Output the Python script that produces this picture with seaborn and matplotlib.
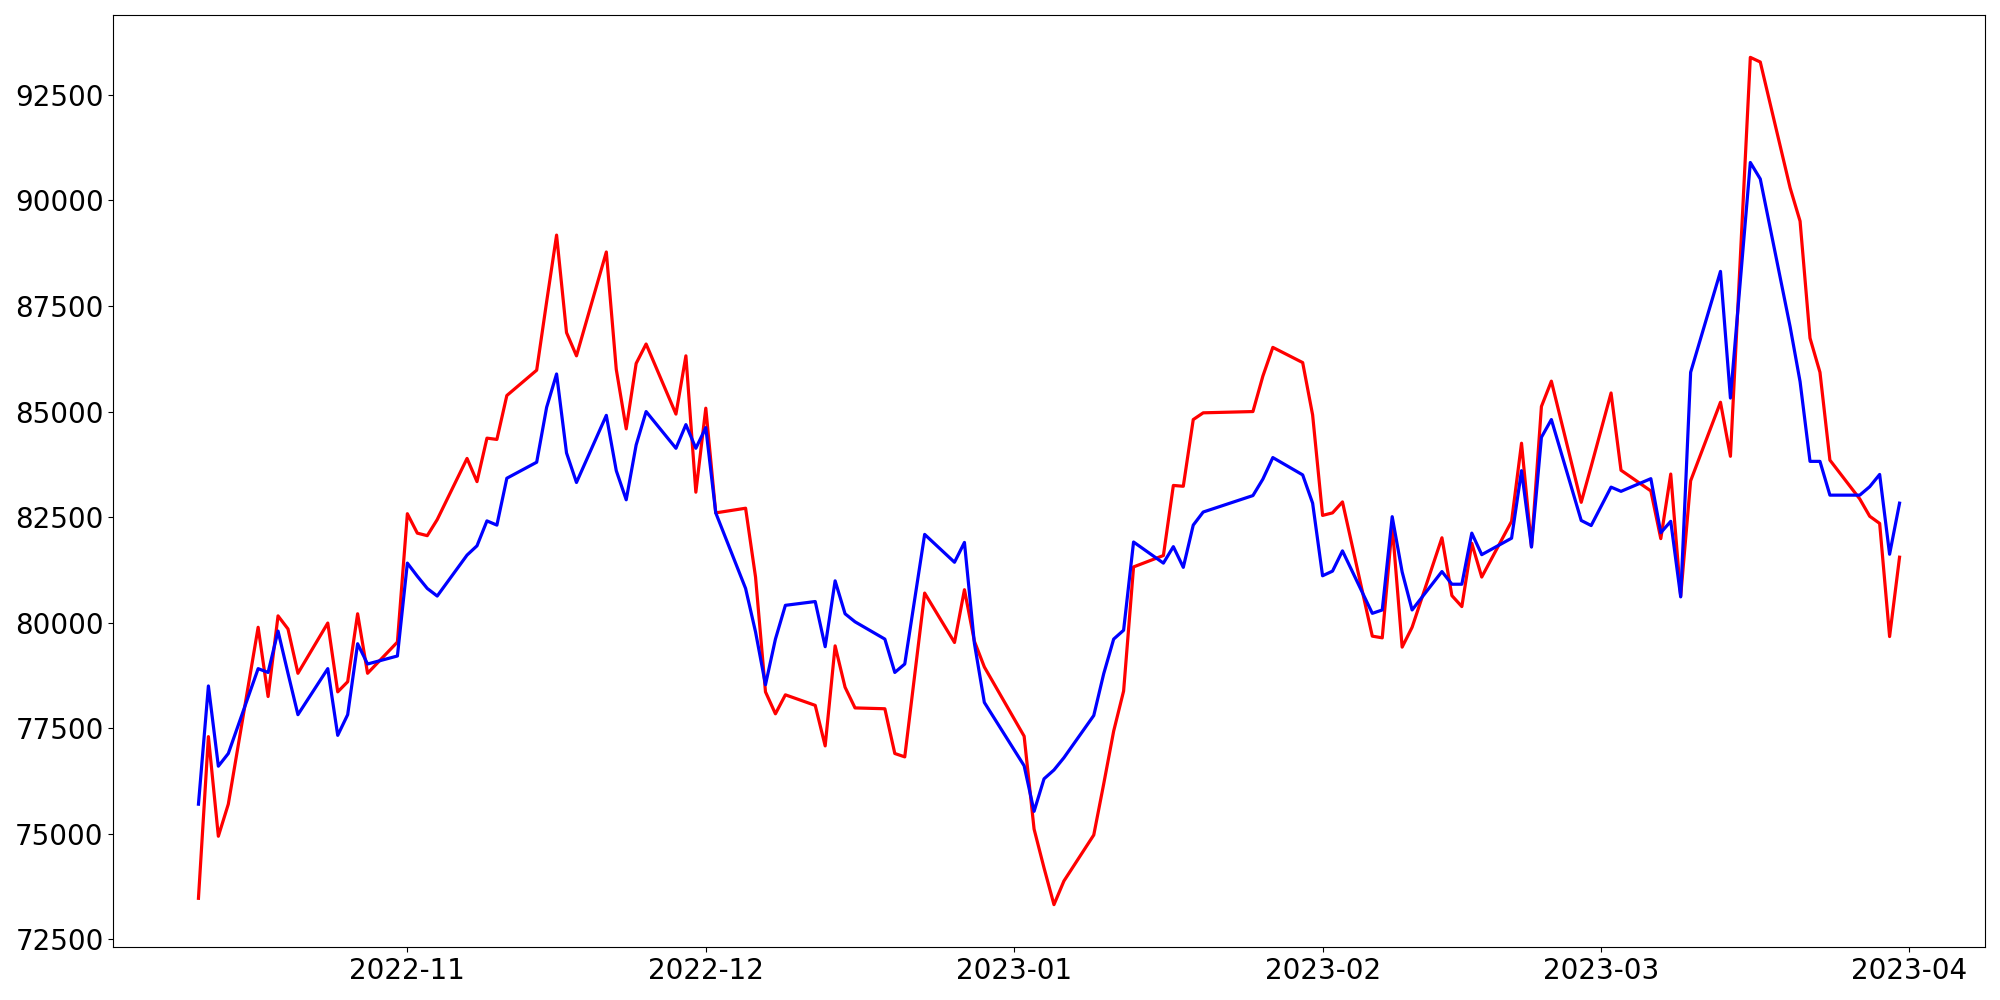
import matplotlib
matplotlib.use("Agg")
import matplotlib.pyplot as plt
import seaborn as sns
import pandas as pd

dates = [
    "2022-10-11", "2022-10-12", "2022-10-13", "2022-10-14", "2022-10-17", "2022-10-18", "2022-10-19",
    "2022-10-20", "2022-10-21", "2022-10-24", "2022-10-25", "2022-10-26", "2022-10-27", "2022-10-28",
    "2022-10-31",
    "2022-11-01", "2022-11-02", "2022-11-03", "2022-11-04", "2022-11-07", "2022-11-08", "2022-11-09",
    "2022-11-10", "2022-11-11", "2022-11-14", "2022-11-15", "2022-11-16", "2022-11-17", "2022-11-18",
    "2022-11-21", "2022-11-22", "2022-11-23", "2022-11-24", "2022-11-25", "2022-11-28", "2022-11-29",
    "2022-11-30",
    "2022-12-01", "2022-12-02", "2022-12-05", "2022-12-06", "2022-12-07", "2022-12-08", "2022-12-09",
    "2022-12-12", "2022-12-13", "2022-12-14", "2022-12-15", "2022-12-16", "2022-12-19", "2022-12-20",
    "2022-12-21", "2022-12-23", "2022-12-26", "2022-12-27", "2022-12-28", "2022-12-29",
    "2023-01-02", "2023-01-03", "2023-01-04", "2023-01-05", "2023-01-06", "2023-01-09", "2023-01-10",
    "2023-01-11", "2023-01-12", "2023-01-13", "2023-01-16", "2023-01-17", "2023-01-18", "2023-01-19",
    "2023-01-20", "2023-01-25", "2023-01-26", "2023-01-27", "2023-01-30", "2023-01-31",
    "2023-02-01", "2023-02-02", "2023-02-03", "2023-02-06", "2023-02-07", "2023-02-08", "2023-02-09",
    "2023-02-10", "2023-02-13", "2023-02-14", "2023-02-15", "2023-02-16", "2023-02-17", "2023-02-20",
    "2023-02-21", "2023-02-22", "2023-02-23", "2023-02-24", "2023-02-27", "2023-02-28",
    "2023-03-02", "2023-03-03", "2023-03-06", "2023-03-07", "2023-03-08", "2023-03-09", "2023-03-10",
    "2023-03-13", "2023-03-14", "2023-03-16", "2023-03-17", "2023-03-20", "2023-03-21", "2023-03-22",
    "2023-03-23", "2023-03-24", "2023-03-27", "2023-03-28", "2023-03-29", "2023-03-30", "2023-03-31",
]

red_values = [
    73470, 77300, 74940, 75700, 79890, 78250, 80160, 79850, 78800, 79990, 78360, 78600, 80210, 78800,
    79540,
    82580, 82120, 82060, 82440, 83890, 83340, 84370, 84340, 85380, 85980, 87600, 89180, 86870, 86320,
    88780, 86000, 84590, 86140, 86600, 84940, 86320, 83090,
    85080, 82600, 82710, 81080, 78360, 77840, 78290, 78040, 77080, 79450, 78470, 77980, 77960, 76900,
    76820, 80700, 79530, 80780, 79560, 78950,
    77310, 75110, 74190, 73320, 73880, 74970, 76180, 77430, 78380, 81320, 81590, 83250, 83230, 84810,
    84970, 85000, 85840, 86520, 86160, 84920,
    82540, 82600, 82860, 79680, 79640, 82300, 79420, 79890, 82010, 80640, 80380, 81880, 81080, 82400,
    84250, 81800, 85120, 85720, 82850, 83700,
    85440, 83610, 83120, 81990, 83520, 80630, 83360, 85220, 83940, 93390, 93280, 90300, 89510, 86740,
    85930, 83850, 82930, 82520, 82350, 79670, 81550,
]

blue_values = [
    75700, 78500, 76600, 76900, 78910, 78820, 79800, 78800, 77820, 78910, 77330, 77820, 79500, 79020,
    79210,
    81410, 81100, 80810, 80630, 81600, 81820, 82410, 82310, 83420, 83800, 85100, 85890, 84020, 83320,
    84910, 83600, 82910, 84210, 85000, 84130, 84690, 84130,
    84620, 82600, 80810, 79780, 78530, 79610, 80410, 80500, 79430, 80990, 80210, 80020, 79610, 78820,
    79020, 82090, 81430, 81900, 79510, 78110,
    76610, 75530, 76300, 76510, 76800, 77800, 78790, 79610, 79820, 81910, 81410, 81800, 81310, 82310,
    82620, 83010, 83400, 83910, 83500, 82830,
    81110, 81220, 81700, 80220, 80300, 82510, 81200, 80300, 81210, 80910, 80910, 82120, 81610, 82000,
    83600, 81790, 84390, 84810, 82420, 82300,
    83210, 83110, 83410, 82130, 82400, 80610, 85930, 88320, 85320, 90900, 90510, 87010, 85710, 83820,
    83820, 83020, 83020, 83220, 83510, 81620, 82830,
]

df = pd.DataFrame({
    "date": pd.to_datetime(dates),
    "red": red_values,
    "blue": blue_values,
})

fig = plt.figure(figsize=(20, 10), dpi=100)
ax = fig.add_axes([0.0567, 0.053, 0.9356, 0.932])

sns.lineplot(data=df, x="date", y="red", color="red", linewidth=2.3, ax=ax)
sns.lineplot(data=df, x="date", y="blue", color="blue", linewidth=2.3, ax=ax)

ax.set_xlabel("")
ax.set_ylabel("")
ax.tick_params(axis="both", labelsize=20)
ax.set_yticks([72500, 75000, 77500, 80000, 82500, 85000, 87500, 90000, 92500])

fig.savefig("out.png", dpi=100)
